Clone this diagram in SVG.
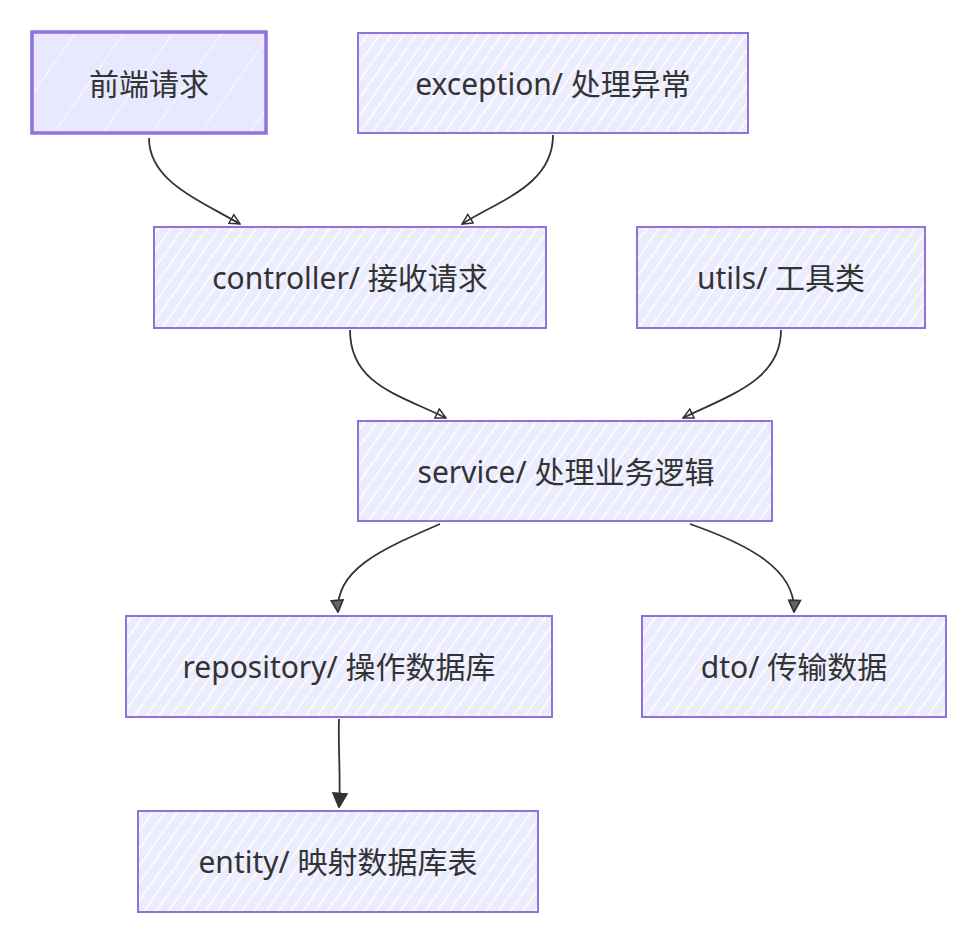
<svg xmlns="http://www.w3.org/2000/svg" width="980" height="943" viewBox="0 0 980 943">
<defs>
<pattern id="hatch" patternUnits="userSpaceOnUse" width="10" height="10" patternTransform="rotate(35)">
<rect width="10" height="10" fill="#ECECFF"/>
<line x1="0" y1="0" x2="0" y2="10" stroke="#ffffff" stroke-width="3"/>
</pattern>
<pattern id="hatch2" patternUnits="userSpaceOnUse" width="40" height="40" patternTransform="rotate(35)">
<rect width="40" height="40" fill="#E8E8FF"/>
<line x1="0" y1="0" x2="0" y2="40" stroke="#ffffff" stroke-width="1.5"/>
</pattern>
<marker id="open" viewBox="0 0 12 12" refX="11" refY="6" markerWidth="12" markerHeight="12" markerUnits="userSpaceOnUse" orient="auto">
<path d="M1,1 L11,6 L1,11 Z" fill="none" stroke="#333" stroke-width="1.5"/>
</marker>
<marker id="hatched" viewBox="0 0 12 12" refX="11" refY="6" markerWidth="14" markerHeight="14" markerUnits="userSpaceOnUse" orient="auto">
<path d="M1,1 L11,6 L1,11 Z" fill="#666" stroke="#333" stroke-width="1.5"/>
</marker>
<marker id="filled" viewBox="0 0 12 12" refX="11" refY="6" markerWidth="16" markerHeight="16" markerUnits="userSpaceOnUse" orient="auto">
<path d="M1,1 L11,6 L1,11 Z" fill="#333" stroke="#333" stroke-width="1.5"/>
</marker>
</defs>
<style>
.node rect { fill: url(#hatch); stroke: #9370DB; stroke-width: 2; }
.node.solid rect { fill: url(#hatch2); stroke-width: 3.5; }
.node text { font-family: "Noto Sans", "Noto Sans CJK SC", sans-serif; font-size: 30px; fill: #333; text-anchor: middle; dominant-baseline: central; }
.edges path { fill: none; stroke: #333; stroke-width: 1.8; }
</style>
<rect width="980" height="943" fill="#ffffff"/>
<g class="edges">
<path d="M149,138 C149,180 195,198 240,224" marker-end="url(#open)"/>
<path d="M553,135 C553,185 500,200 462,224" marker-end="url(#open)"/>
<path d="M350,330 C350,385 400,395 446,418" marker-end="url(#open)"/>
<path d="M781,330 C781,380 730,395 683,418" marker-end="url(#open)"/>
<path d="M440,524 C380,550 335,570 338,612" marker-end="url(#hatched)"/>
<path d="M690,524 C750,545 796,570 794,612" marker-end="url(#hatched)"/>
<path d="M339,719 C338,750 341,780 339,807" marker-end="url(#filled)"/>
</g>
<g id="node-frontend" class="node solid"><rect x="32" y="32" width="234" height="101"/><text x="149" y="83">前端请求</text></g>
<g id="node-exception" class="node"><rect x="358" y="33" width="390" height="100"/><text x="553" y="83">exception/ 处理异常</text></g>
<g id="node-controller" class="node"><rect x="154" y="227" width="392" height="101"/><text x="350" y="277">controller/ 接收请求</text></g>
<g id="node-utils" class="node"><rect x="637" y="227" width="288" height="101"/><text x="781" y="277">utils/ 工具类</text></g>
<g id="node-service" class="node"><rect x="358" y="421" width="414" height="100"/><text x="566" y="471">service/ 处理业务逻辑</text></g>
<g id="node-repository" class="node"><rect x="126" y="616" width="426" height="101"/><text x="339" y="666">repository/ 操作数据库</text></g>
<g id="node-dto" class="node"><rect x="642" y="616" width="304" height="101"/><text x="794" y="666">dto/ 传输数据</text></g>
<g id="node-entity" class="node"><rect x="138" y="811" width="400" height="101"/><text x="338" y="861">entity/ 映射数据库表</text></g>
</svg>
